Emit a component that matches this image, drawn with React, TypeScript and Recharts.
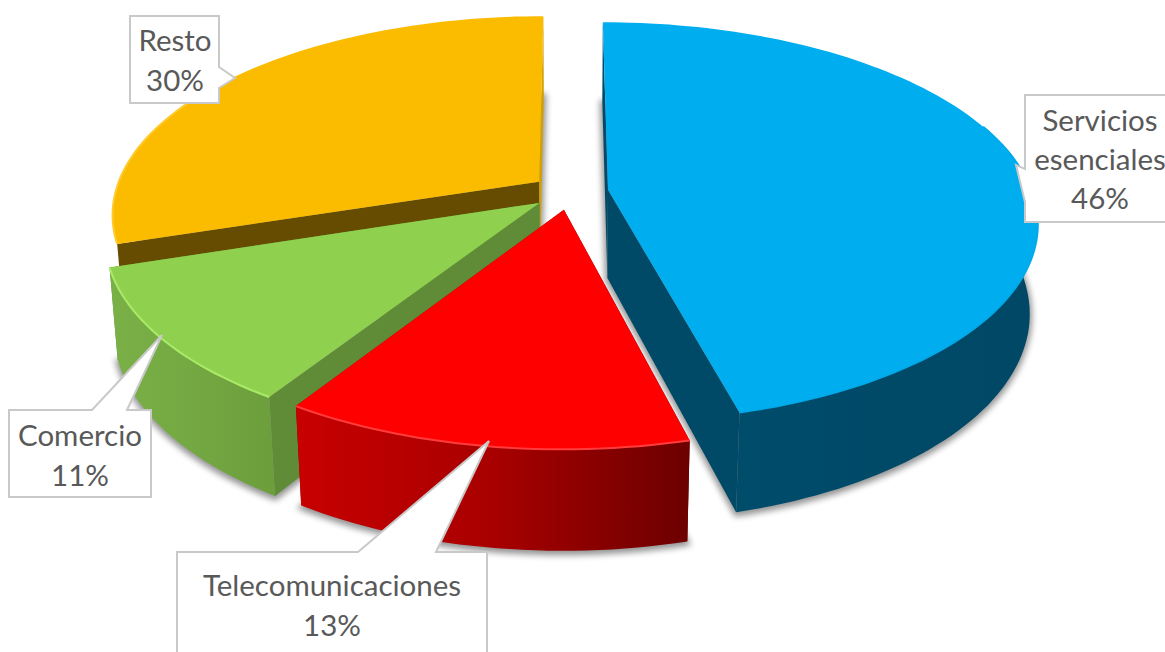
import React from "react";
import { PieChart, Pie } from "recharts";

// Share of the total per sector; listed back-to-front so that nearer slices paint last.
const sectorNames = ["Resto", "Comercio", "Telecomunicaciones", "Servicios esenciales"];
const sectorValues = [30, 11, 13, 46];

const chartData = sectorNames.map((name, i) => ({ name, value: sectorValues[i] }));

const WIDTH = 1165;
const HEIGHT = 652;

// Camera model of the tilted disc.
const EXPLODE = 0.0905;
const FORESHORTEN = 0.46;
const THICKNESS = 0.212;
const PERSPECTIVE = 0.16;
const DEPTH_SHRINK = 0.017;

type SliceLook = {
  top: string;
  rim: string;
  wallFrom: string;
  wallMid: string;
  wallTo: string;
  cutStart: string;
  cutEnd: string;
};

const looks: Record<string, SliceLook> = {
  "Servicios esenciales": {
    top: "#00aeef", rim: "#00aaea", wallFrom: "#004c6b", wallMid: "#004a68", wallTo: "#004865",
    cutStart: "#004a68", cutEnd: "#004a68",
  },
  Telecomunicaciones: {
    top: "#ff0000", rim: "#ff3c3c", wallFrom: "#c80000", wallMid: "#a80000", wallTo: "#6c0000",
    cutStart: "#7a0000", cutEnd: "#8a0000",
  },
  Comercio: {
    top: "#8fd14f", rim: "#a9ea68", wallFrom: "#7ab147", wallMid: "#74a842", wallTo: "#6c9e3c",
    cutStart: "#608c38", cutEnd: "#608c38",
  },
  Resto: {
    top: "#fbbc00", rim: "#ffca2c", wallFrom: "#d9a300", wallMid: "#d9a300", wallTo: "#d9a300",
    cutStart: "#664c00", cutEnd: "#d2a000",
  },
};

type Callout = {
  box: [number, number, number, number];
  pointer: number[][];
  side: "top" | "left" | "right";
  textX: number;
  baselines: number[];
  lines: string[];
};

const callouts: Record<string, Callout> = {
  Resto: {
    box: [130, 16, 219, 103],
    pointer: [[219, 67], [235, 78], [219, 88]],
    side: "right",
    textX: 175,
    baselines: [51, 91],
    lines: ["Resto"],
  },
  Comercio: {
    box: [9, 410, 151, 497],
    pointer: [[92, 410], [162, 335], [127, 410]],
    side: "top",
    textX: 80,
    baselines: [446, 486],
    lines: ["Comercio"],
  },
  Telecomunicaciones: {
    box: [177, 552, 487, 664],
    pointer: [[358, 552], [489, 441], [436, 552]],
    side: "top",
    textX: 332,
    baselines: [596, 636],
    lines: ["Telecomunicaciones"],
  },
  "Servicios esenciales": {
    box: [1025, 95, 1180, 222],
    pointer: [[1025, 169], [1016, 165], [1025, 202]],
    side: "left",
    textX: 1100,
    baselines: [131, 170, 209],
    lines: ["Servicios", "esenciales"],
  },
};

const rad = (deg: number) => (deg * Math.PI) / 180;

// Recharts measures counter-clockwise from 3 o'clock; the disc is worked out clockwise from 12.
function clockRange(props: any): [number, number] {
  const a = 90 - props.startAngle;
  const b = 90 - props.endAngle;
  return [Math.min(a, b) + (Math.min(a, b) < 0 ? 360 : 0), Math.max(a, b) + (Math.min(a, b) < 0 ? 360 : 0)];
}

function makeProjector(props: any) {
  const { cx, cy, outerRadius } = props;
  const [a0, a1] = clockRange(props);
  const mid = rad((a0 + a1) / 2);
  const ox = EXPLODE * Math.sin(mid);
  const oy = -EXPLODE * Math.cos(mid);
  const project = (x: number, y: number, z: number): [number, number] => {
    const w = 1 - PERSPECTIVE * y + DEPTH_SHRINK * z;
    return [cx + (outerRadius * x) / w, cy + (outerRadius * (FORESHORTEN * y + THICKNESS * z)) / w];
  };
  const apex = (z: number) => project(ox, oy, z);
  const rim = (deg: number, z: number) => project(Math.sin(rad(deg)) + ox, -Math.cos(rad(deg)) + oy, z);
  return { a0, a1, apex, rim };
}

function arc(rim: (deg: number, z: number) => [number, number], from: number, to: number, z: number) {
  const pts: [number, number][] = [];
  const steps = Math.max(2, Math.ceil(Math.abs(to - from) / 1.5));
  for (let i = 0; i <= steps; i++) pts.push(rim(from + ((to - from) * i) / steps, z));
  return pts;
}

const toPath = (pts: [number, number][]) =>
  "M" + pts.map((p) => `${p[0].toFixed(1)},${p[1].toFixed(1)}`).join("L");

function ShadowShape(props: any) {
  const { a0, a1, apex, rim } = makeProjector(props);
  const footprint = [apex(1.02), ...arc(rim, a0, a1, 1.02)];
  const id = `soft-${props.name.replace(/\s/g, "")}`;
  return (
    <g>
      <defs>
        <filter id={id} filterUnits="userSpaceOnUse" x="0" y="0" width={WIDTH} height={HEIGHT}>
          <feGaussianBlur stdDeviation="3" />
        </filter>
      </defs>
      <path d={toPath(footprint) + "Z"} fill="#000" stroke="#000" strokeWidth={5} opacity={0.42} filter={`url(#${id})`} />
    </g>
  );
}

function SliceShape(props: any) {
  const look = looks[props.name];
  const { a0, a1, apex, rim } = makeProjector(props);
  const gradId = `wall-${props.name.replace(/\s/g, "")}`;

  const cutFace = (deg: number) => [apex(0), rim(deg, 0), rim(deg, 1), apex(1)] as [number, number][];

  // Only the part of the outer wall turned towards the viewer is painted.
  const wallFrom = Math.max(a0, 86);
  const wallTo = Math.min(a1, 252);
  const wall =
    wallTo - wallFrom > 1
      ? [...arc(rim, wallFrom, wallTo, 0), ...arc(rim, wallTo, wallFrom, 1)]
      : null;

  const topFace = [apex(0), ...arc(rim, a0, a1, 0)];

  return (
    <g>
      <defs>
        <linearGradient id={gradId} x1="0" y1="0" x2="1" y2="0">
          <stop offset="0%" stopColor={look.wallFrom} />
          <stop offset="50%" stopColor={look.wallMid} />
          <stop offset="100%" stopColor={look.wallTo} />
        </linearGradient>
      </defs>
      <path d={toPath(cutFace(a0)) + "Z"} fill={look.cutStart} />
      <path d={toPath(cutFace(a1)) + "Z"} fill={look.cutEnd} />
      {wall && <path d={toPath(wall) + "Z"} fill={`url(#${gradId})`} />}
      <path d={toPath(topFace) + "Z"} fill={look.top} />
      <path
        d={toPath(arc(rim, Math.max(a0, 70), Math.min(a1, 300), 0))}
        fill="none"
        stroke={look.rim}
        strokeWidth={2}
      />
    </g>
  );
}

function CalloutLabel(props: any) {
  const c = callouts[props.name];
  const [l, t, r, b] = c.box;
  const ptr = c.pointer.map((p) => `${p[0]},${p[1]}`).join(" ");
  let outline = "";
  if (c.side === "top") outline = `${l},${t} ${ptr} ${r},${t} ${r},${b} ${l},${b}`;
  if (c.side === "left") outline = `${l},${t} ${r},${t} ${r},${b} ${l},${b} ${ptr.split(" ").reverse().join(" ")}`;
  if (c.side === "right") outline = `${l},${t} ${r},${t} ${ptr} ${r},${b} ${l},${b}`;
  const lines = [...c.lines, `${Math.round(props.percent * 100)}%`];
  return (
    <g>
      <polygon points={outline} fill="#ffffff" stroke="#c9c9c9" strokeWidth={2} />
      {lines.map((line, i) => (
        <text
          key={line}
          x={c.textX}
          y={c.baselines[i]}
          textAnchor="middle"
          fontFamily="Lato, sans-serif"
          fontSize={29.5}
          fill="#595959"
        >
          {line}
        </text>
      ))}
    </g>
  );
}

export default function App() {
  const pieGeometry = {
    data: chartData,
    dataKey: "value",
    nameKey: "name",
    cx: 570,
    cy: 192,
    innerRadius: 0,
    outerRadius: 424,
    startAngle: 90,
    endAngle: 450,
    stroke: "none",
    isAnimationActive: false,
  };
  return (
    <div style={{ position: "absolute", left: 0, top: 0, width: WIDTH, height: HEIGHT, overflow: "hidden", background: "#fff" }}>
      <PieChart width={WIDTH} height={HEIGHT} margin={{ top: 0, right: 0, bottom: 0, left: 0 }}>
        <Pie {...pieGeometry} shape={ShadowShape} />
        <Pie {...pieGeometry} shape={SliceShape} label={CalloutLabel} labelLine={false} />
      </PieChart>
    </div>
  );
}
